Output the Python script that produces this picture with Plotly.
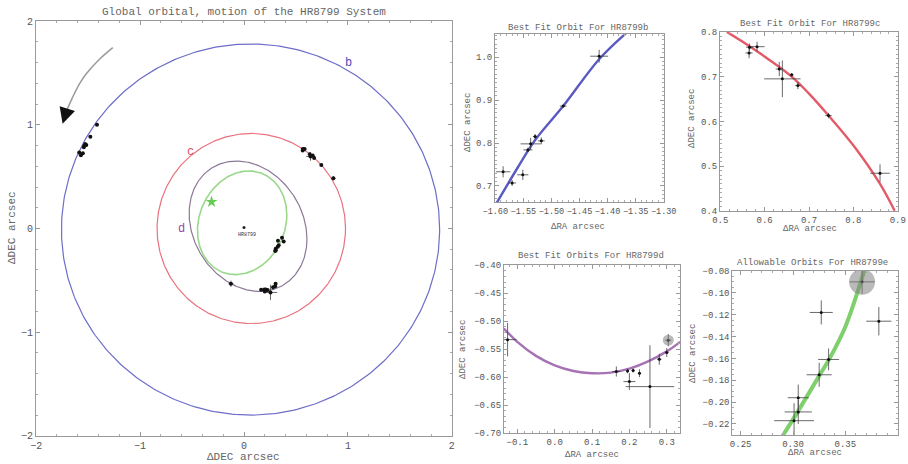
import numpy as np
import plotly.graph_objects as go

W, H = 908, 464
MONO = "Liberation Mono, Courier New, monospace"
TXT = "#666666"

# ---------------- data ----------------
# HR8799b astrometry (arcsec)
b_ra = [-1.415, -1.479, -1.529, -1.518, -1.537, -1.542, -1.586, -1.551, -1.570]
b_dec = [1.002, 0.886, 0.815, 0.805, 0.798, 0.784, 0.733, 0.726, 0.707]
b_ra_err = [0.016, 0.006, 0.004, 0.006, 0.018, 0.008, 0.013, 0.010, 0.007]
b_dec_err = [0.015, 0.003, 0.006, 0.008, 0.014, 0.005, 0.013, 0.012, 0.007]
b_fit_ra = [-1.600, -1.560, -1.529, -1.479, -1.415, -1.365]
b_fit_dec = [0.655, 0.743, 0.807, 0.886, 0.995, 1.058]

# HR8799c
c_ra = [0.566, 0.583, 0.565, 0.633, 0.640, 0.661, 0.675, 0.744, 0.860]
c_dec = [0.766, 0.767, 0.753, 0.717, 0.695, 0.704, 0.680, 0.613, 0.484]
c_ra_err = [0.008, 0.017, 0.008, 0.008, 0.041, 0.004, 0.006, 0.007, 0.022]
c_dec_err = [0.008, 0.011, 0.012, 0.016, 0.041, 0.004, 0.008, 0.006, 0.020]
c_fit_ra = [0.515, 0.560, 0.610, 0.661, 0.700, 0.744, 0.804, 0.860, 0.893]
c_fit_dec = [0.800, 0.772, 0.738, 0.700, 0.662, 0.613, 0.541, 0.460, 0.400]

# HR8799d
d_ra = [-0.126, 0.165, 0.195, 0.210, 0.227, 0.200, 0.255, 0.280, 0.300, 0.304]
d_dec = [-0.533, -0.590, -0.589, -0.588, -0.593, -0.608, -0.617, -0.568, -0.556, -0.534]
d_ra_err = [0.024, 0.011, 0.004, 0.004, 0.004, 0.016, 0.065, 0.006, 0.005, 0.008]
d_dec_err = [0.030, 0.009, 0.004, 0.004, 0.007, 0.015, 0.074, 0.010, 0.008, 0.011]
d_fit_ra = [-0.136, -0.100, -0.050, 0.000, 0.050, 0.100, 0.150, 0.200, 0.250, 0.300, 0.336]
d_fit_dec = [-0.513, -0.537, -0.562, -0.579, -0.589, -0.593, -0.592, -0.585, -0.572, -0.554, -0.537]

# HR8799e
e_ra = [0.366, 0.327, 0.382, 0.334, 0.325, 0.305, 0.305, 0.301]
e_dec = [-0.090, -0.118, -0.126, -0.161, -0.175, -0.196, -0.209, -0.217]
e_ra_err = [0.012, 0.011, 0.012, 0.010, 0.012, 0.010, 0.013, 0.019]
e_dec_err = [0.011, 0.011, 0.013, 0.010, 0.011, 0.012, 0.011, 0.016]
e_fit_ra = [0.290, 0.305, 0.325, 0.335, 0.350, 0.368]
e_fit_dec = [-0.231, -0.208, -0.176, -0.160, -0.131, -0.080]

# global orbits: centre, half-width, half-height, tilt correlation
orbit_names = ["b", "c", "d", "e"]
orbit_cx = [0.063, 0.070, 0.039, -0.018]
orbit_cy = [-0.010, 0.000, 0.022, 0.055]
orbit_w = [1.820, 0.907, 0.567, 0.430]
orbit_h = [1.790, 0.917, 0.629, 0.500]
orbit_rho = [0.0, 0.0, -0.196, 0.15]

# direction-of-motion arc
arc_x = [-1.263, -1.391, -1.520, -1.585, -1.650, -1.707]
arc_y = [1.745, 1.633, 1.490, 1.393, 1.265, 1.137]
arc_tip = (-1.746, 1.010)

star_pos = (0.0, 0.01)
e_discovery = (-0.312, 0.257)

# ---------------- styles ----------------
main_col = {"b": "#6e6ec8", "c": "#e8727e", "d": "#8c7896", "e": "#9ad88c"}
main_w = {"b": 1.2, "c": 1.2, "d": 1.2, "e": 1.6}
label_pos = {"b": (1.005, 1.60), "c": (-0.512, 0.737), "d": (-0.600, 0.0)}
label_col = {"b": "#4a4ac0", "c": "#e05060", "d": "#a040a8"}


def px(x):
    return x / W


def py(y):
    return 1 - y / H


fig = go.Figure()


def err_trace(xs, ys, ex, ey, xa, ya, msize=3):
    return go.Scatter(
        x=xs, y=ys, mode="markers", xaxis=xa, yaxis=ya,
        marker=dict(color="#111111", size=msize),
        error_x=dict(type="data", array=ex, width=0, thickness=0.8, color="#444444"),
        error_y=dict(type="data", array=ey, width=0, thickness=0.8, color="#444444"),
        showlegend=False, hoverinfo="x+y",
    )


# ---- main panel ----
t = np.linspace(0, 2 * np.pi, 400)
for i, n in enumerate(orbit_names):
    r = orbit_rho[i]
    ox = orbit_cx[i] + orbit_w[i] * np.cos(t)
    oy = orbit_cy[i] + orbit_h[i] * (r * np.cos(t) + np.sqrt(1 - r * r) * np.sin(t))
    fig.add_trace(go.Scatter(x=ox, y=oy, mode="lines", xaxis="x", yaxis="y",
                             line=dict(color=main_col[n], width=main_w[n]),
                             showlegend=False, hoverinfo="skip"))

for xs, ys, ex, ey in [(b_ra, b_dec, b_ra_err, b_dec_err), (c_ra, c_dec, c_ra_err, c_dec_err),
                       (d_ra, d_dec, d_ra_err, d_dec_err), (e_ra, e_dec, e_ra_err, e_dec_err)]:
    fig.add_trace(err_trace(xs, ys, ex, ey, "x", "y", msize=4))

fig.add_trace(go.Scatter(x=arc_x, y=arc_y, mode="lines", xaxis="x", yaxis="y",
                         line=dict(color="#9a9a9a", width=1.5, shape="spline"),
                         showlegend=False, hoverinfo="skip"))
fig.add_trace(go.Scatter(x=[star_pos[0]], y=[star_pos[1]], mode="markers", xaxis="x", yaxis="y",
                         marker=dict(color="#222", size=3), showlegend=False))
fig.add_trace(go.Scatter(x=[e_discovery[0]], y=[e_discovery[1]], mode="markers", xaxis="x", yaxis="y",
                         marker=dict(color="#66cc55", size=9, symbol="star"), showlegend=False))

# ---- side panels ----
panels = [
    ("x2", "y2", b_fit_ra, b_fit_dec, "#5a5ac0", 2.4, (b_ra, b_dec, b_ra_err, b_dec_err)),
    ("x3", "y3", c_fit_ra, c_fit_dec, "#e35a68", 2.4, (c_ra, c_dec, c_ra_err, c_dec_err)),
    ("x4", "y4", d_fit_ra, d_fit_dec, "#a672b4", 2.4, (d_ra, d_dec, d_ra_err, d_dec_err)),
    ("x5", "y5", e_fit_ra, e_fit_dec, "#7fcf6c", 4.0, (e_ra, e_dec, e_ra_err, e_dec_err)),
]
for xa, ya, fx, fy, col, lw, (xs, ys, ex, ey) in panels:
    fig.add_trace(go.Scatter(x=fx, y=fy, mode="lines", xaxis=xa, yaxis=ya,
                             line=dict(color=col, width=lw, shape="spline", smoothing=1.0),
                             showlegend=False, hoverinfo="skip"))
    fig.add_trace(err_trace(xs, ys, ex, ey, xa, ya))

# gray highlight discs
fig.add_trace(go.Scatter(x=[d_ra[-1]], y=[d_dec[-1]], mode="markers", xaxis="x4", yaxis="y4",
                         marker=dict(color="rgba(130,130,130,0.55)", size=11), showlegend=False))
fig.add_trace(go.Scatter(x=[e_ra[0]], y=[e_dec[0]], mode="markers", xaxis="x5", yaxis="y5",
                         marker=dict(color="rgba(130,130,130,0.55)", size=26), showlegend=False))

# ---------------- axes ----------------
def ax(domain, rng, dtick, minor, fmt, anchor, size=9, tickvals=None):
    d = dict(domain=domain, range=rng, anchor=anchor, showgrid=False, zeroline=False,
             automargin=False, tickangle=0,
             showline=True, linecolor="#999999", linewidth=1, mirror="allticks",
             ticks="inside", ticklen=4, tickcolor="#999999", tickwidth=1,
             minor=dict(dtick=minor, ticks="inside", ticklen=2, tickcolor="#aaaaaa"),
             tickfont=dict(family=MONO, size=size, color="#555555"),
             tickformat=fmt, dtick=dtick)
    if tickvals is not None:
        d["tickvals"] = tickvals
        d.pop("dtick")
    return d


layout = dict(
    template="none",
    width=W, height=H, margin=dict(l=0, r=0, t=0, b=0, autoexpand=False),
    paper_bgcolor="white", plot_bgcolor="white", showlegend=False,
    xaxis=ax([px(36), px(452)], [-2.002, 2.002], 1, 0.2, "d", "y", size=10, tickvals=[-2, -1, 0, 1, 2]),
    yaxis=ax([py(436), py(21)], [-2.002, 2.002], 1, 0.2, "d", "x", size=10, tickvals=[-2, -1, 0, 1, 2]),
    xaxis2=ax([px(495), px(664)], [-1.6005, -1.2995], 0.05, 0.01, ".2f", "y2", size=8.5),
    yaxis2=ax([py(202.3), py(34.3)], [0.662, 1.053], 0.1, 0.01, ".1f", "x2"),
    xaxis3=ax([px(720), px(898)], [0.4995, 0.9005], 0.1, 0.02, ".1f", "y3"),
    yaxis3=ax([py(211), py(31.7)], [0.3995, 0.8005], 0.1, 0.01, ".1f", "x3"),
    xaxis4=ax([px(504), px(680)], [-0.1356, 0.3354], 0.1, 0.02, ".1f", "y4"),
    yaxis4=ax([py(433.3), py(265)], [-0.7005, -0.3995], 0.05, 0.01, ".2f", "x4"),
    xaxis5=ax([px(732.3), px(898)], [0.242, 0.4003], 0.05, 0.01, ".2f", "y5"),
    yaxis5=ax([py(435), py(270.7)], [-0.2301, -0.0798], 0.02, 0.005, ".2f", "x5"),
)
fig.update_layout(**layout)

# ---------------- annotations ----------------
ann = []


def note(text, x, y, size, rot=0, color=TXT):
    ann.append(dict(text=text, x=px(x), y=py(y), xref="paper", yref="paper", showarrow=False,
                    textangle=rot, xanchor="center", yanchor="middle",
                    font=dict(family=MONO, size=size, color=color)))


note("Global orbital, motion of the HR8799 System", 244, 12, 11)
note("ΔDEC arcsec", 244, 457, 11)
note("ΔDEC arcsec", 12, 228, 11, rot=-90)

note("Best Fit Orbit For HR8799b", 578, 28, 9)
note("ΔRA arcsec", 578, 227, 9)
note("ΔDEC arcsec", 468, 123, 9, rot=-90)

note("Best Fit Orbit For HR8799c", 810, 24, 9)
note("ΔRA arcsec", 810, 229, 9)
note("ΔDEC arcsec", 692, 119, 9, rot=-90)

note("Best Fit Orbits For HR8799d", 591, 256, 9)
note("ΔRA arcsec", 592, 455, 9)
note("ΔDEC arcsec", 463, 350, 9, rot=-90)

note("Allowable Orbits For HR8799e", 812, 263, 9)
note("ΔRA arcsec", 815, 453, 9)
note("ΔDEC arcsec", 693, 354, 9, rot=-90)

for n in ["b", "c", "d"]:
    ann.append(dict(text=n, x=label_pos[n][0], y=label_pos[n][1], xref="x", yref="y",
                    showarrow=False, font=dict(family=MONO, size=12, color=label_col[n])))
ann.append(dict(text="HR8799", x=star_pos[0] + 0.03, y=star_pos[1] - 0.07, xref="x", yref="y",
                showarrow=False, font=dict(family=MONO, size=5, color="#333")))
ann.append(dict(text="", x=arc_tip[0], y=arc_tip[1], xref="x", yref="y",
                ax=arc_x[-1], ay=arc_y[-1], axref="x", ayref="y",
                showarrow=True, arrowhead=2, arrowsize=2.0, arrowwidth=1.6, arrowcolor="#111",
                standoff=0, startstandoff=0))
fig.update_layout(annotations=ann)

fig.write_html(
    "out.html",
    config={"displayModeBar": False},
    post_script="document.body.style.margin='0px';document.body.style.overflow='hidden';",
)
